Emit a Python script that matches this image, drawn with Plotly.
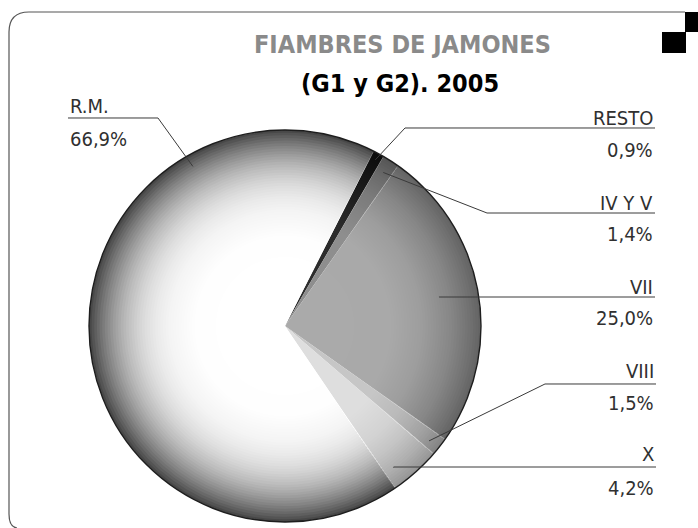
import math
import plotly.graph_objects as go

# ---------------- data ----------------
labels = ["RESTO", "IV Y V", "VII", "VIII", "X", "R.M."]
values = [0.9, 1.4, 25.0, 1.5, 4.2, 66.9]
title_line1 = "FIAMBRES DE JAMONES"
title_line2 = "(G1 y G2). 2005"

# ---------------- styles / layout ----------------
base_colors = ["#2c2c2c", "#8e8e8e", "#aaaaaa", "#c6c6c6", "#dedede", "#ffffff"]
shade_strength = [0.30, 0.33, 0.34, 0.30, 0.30, 0.72]

W, H = 698, 528
CX, CY, RAD = 285, 326, 196          # pie centre / radius in pixels
ROTATION = 26.9                      # start angle of first slice (deg, clockwise from 12h)

LABEL_FONT = "DejaVu Sans Condensed, Liberation Sans Narrow, sans-serif"
TITLE_FONT = "DejaVu Sans Condensed, Liberation Sans Narrow, sans-serif"
TEXT_COLOR = "#303030"
LINE_COLOR = "#3a3a3a"

# per label: side, text x, name baseline, underline y, value baseline, elbow x (None = straight),
#            position inside slice (fraction of its angle), radius fraction for leader end
label_layout = {
    "RESTO":  dict(side="r", tx=655, nb=124, uy=128, vb=156, ex=405,  fa=0.50, fr=0.965),
    "IV Y V": dict(side="r", tx=655, nb=209, uy=213, vb=240, ex=487,  fa=0.49, fr=0.93),
    "VII":    dict(side="r", tx=655, nb=293, uy=297, vb=324, ex=None, fa=0.49, fr=0.80),
    "VIII":   dict(side="r", tx=656, nb=377, uy=384, vb=409, ex=545,  fa=0.61, fr=0.94),
    "X":      dict(side="r", tx=656, nb=460, uy=467, vb=494, ex=None, fa=0.78, fr=0.91),
    "R.M.":   dict(side="l", tx=68,  nb=113, uy=118, vb=145, ex=158,  fa=0.764, fr=0.94),
}
LABEL_SIZE = 20


def px(x):
    return x / W


def py(y):
    return 1 - y / H


domain_x = [px(CX - RAD), px(CX + RAD)]
domain_y = [py(CY + RAD), py(CY - RAD)]

fig = go.Figure()

# base pie
fig.add_trace(go.Pie(
    labels=labels, values=values, sort=False, direction="clockwise",
    rotation=ROTATION, marker=dict(colors=base_colors, line=dict(width=0)),
    textinfo="none", showlegend=False, domain=dict(x=domain_x, y=domain_y),
    hoverinfo="label+percent",
))

# radial shading rings (darken towards the rim)
def target(strength, r):
    return 1 - strength * r ** 5

N_RINGS = 48
h0 = 0.35
holes = [h0 + (1 - h0) * k / N_RINGS for k in range(N_RINGS)]
prev = [1.0] * len(values)
for k, h in enumerate(holes):
    h_next = holes[k + 1] if k + 1 < N_RINGS else 1.0
    m = 0.5 * (h + h_next)
    cols = []
    for i, s in enumerate(shade_strength):
        t = target(s, m)
        a = max(0.0, 1 - t / prev[i])
        prev[i] = t
        cols.append(f"rgba(0,0,0,{a:.4f})")
    fig.add_trace(go.Pie(
        labels=labels, values=values, sort=False, direction="clockwise",
        rotation=ROTATION, hole=h, marker=dict(colors=cols, line=dict(width=0)),
        textinfo="none", showlegend=False, hoverinfo="skip",
        domain=dict(x=domain_x, y=domain_y),
    ))

# rim outline
fig.add_trace(go.Pie(
    labels=["rim"], values=[1], sort=False, textinfo="none", showlegend=False,
    hoverinfo="skip", marker=dict(colors=["rgba(0,0,0,0)"], line=dict(color="#1e1e1e", width=1.4)),
    domain=dict(x=domain_x, y=domain_y),
))

# ---------------- leader lines & labels ----------------
total = sum(values)
shapes = []
annotations = []
start = ROTATION
for lab, v in zip(labels, values):
    span = v / total * 360
    cfg = label_layout[lab]
    theta = math.radians(start + cfg["fa"] * span)
    start += span
    x0 = CX + cfg["fr"] * RAD * math.sin(theta)
    y0 = CY - cfg["fr"] * RAD * math.cos(theta)
    if cfg["side"] == "r":
        xe = cfg["ex"] if cfg["ex"] is not None else x0
        pts = [(x0, y0), (xe, cfg["uy"]), (cfg["tx"], cfg["uy"])]
        xanchor = "right"
    else:
        pts = [(x0, y0), (cfg["ex"], cfg["uy"]), (cfg["tx"], cfg["uy"])]
        xanchor = "left"
    path = "M " + " L ".join(f"{px(a):.5f},{py(b):.5f}" for a, b in pts)
    shapes.append(dict(type="path", xref="paper", yref="paper", path=path,
                       line=dict(color=LINE_COLOR, width=1)))
    val_txt = f"{v:.1f}".replace(".", ",") + "%"
    for txt, base in ((lab, cfg["nb"]), (val_txt, cfg["vb"])):
        annotations.append(dict(
            text=txt, x=px(cfg["tx"]), y=py(base - 6.5), xref="paper", yref="paper",
            xanchor=xanchor, yanchor="middle", showarrow=False,
            font=dict(family=LABEL_FONT, size=LABEL_SIZE, color=TEXT_COLOR),
        ))

# titles
annotations.append(dict(text=f"<b>{title_line1}</b>", x=px(402), y=py(44), xref="paper", yref="paper",
                        xanchor="center", yanchor="middle", showarrow=False,
                        font=dict(family=TITLE_FONT, size=25, color="#8a8a8a")))
annotations.append(dict(text=f"<b>{title_line2}</b>", x=px(400), y=py(83), xref="paper", yref="paper",
                        xanchor="center", yanchor="middle", showarrow=False,
                        font=dict(family=TITLE_FONT, size=25, color="#000000")))

# frame and corner icon
frame = (f"M {px(685)},{py(12)} L {px(29)},{py(12)} Q {px(9)},{py(12)} {px(9)},{py(32)} "
         f"L {px(9)},{py(514)} Q {px(9)},{py(527)} {px(17)},{py(528)}")
shapes.append(dict(type="path", xref="paper", yref="paper", path=frame,
                   line=dict(color="#555555", width=1.2)))
shapes.append(dict(type="rect", xref="paper", yref="paper", x0=px(685), x1=px(698), y0=py(32), y1=py(12),
                   fillcolor="black", line=dict(width=0)))
shapes.append(dict(type="rect", xref="paper", yref="paper", x0=px(662), x1=px(686), y0=py(53), y1=py(32),
                   fillcolor="black", line=dict(width=0)))

fig.update_layout(
    width=W, height=H, margin=dict(l=0, r=0, t=0, b=0),
    paper_bgcolor="white", plot_bgcolor="white",
    shapes=shapes, annotations=annotations, showlegend=False,
)

fig.write_html("out.html", config={"displayModeBar": False},
               post_script="document.body.style.margin='0';")
